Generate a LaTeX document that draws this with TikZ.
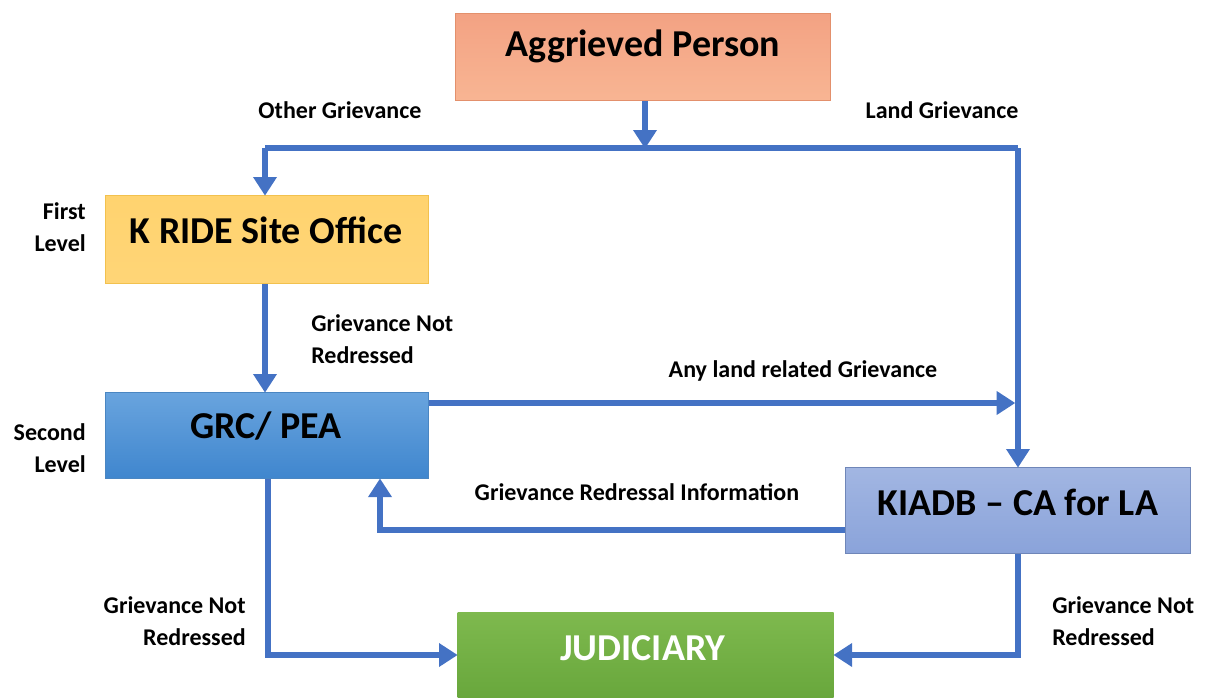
\documentclass[tikz,border=0pt]{standalone}
\usepackage{fontspec}
\setmainfont{Carlito}
\usetikzlibrary{arrows.meta,positioning}
\definecolor{arr}{HTML}{4472C4}
\definecolor{apTop}{HTML}{F3A283}
\definecolor{apBot}{HTML}{F8B593}
\definecolor{apBd}{HTML}{E3906C}
\definecolor{krTop}{HTML}{FFD36F}
\definecolor{krBot}{HTML}{FFD577}
\definecolor{krBd}{HTML}{F2C14E}
\definecolor{grTop}{HTML}{69A4DE}
\definecolor{grBot}{HTML}{3F86CE}
\definecolor{grBd}{HTML}{4A86C2}
\definecolor{kiTop}{HTML}{A2B6E2}
\definecolor{kiBot}{HTML}{8AA3DA}
\definecolor{kiBd}{HTML}{6F86B8}
\definecolor{juTop}{HTML}{7EB94E}
\definecolor{juBot}{HTML}{66A53A}
\tikzset{
  boxnode/.style={draw, line width=0.8pt, inner sep=0pt},
  boxtext/.style={font=\bfseries\fontsize{28.5}{30}\selectfont, inner sep=0pt},
  conn/.style={draw=arr, line width=3.8pt},
  arrowconn/.style={conn, -{Triangle[width=17pt,length=14pt]}, shorten >=-0.5pt},
  lbl/.style={font=\bfseries\fontsize{18}{24}\selectfont, inner sep=0pt},
}
\begin{document}
\begin{tikzpicture}[x=0.75pt,y=-0.75pt]
\useasboundingbox (0,0) rectangle (1207,697);
\begin{scope}
\clip (0,0) rectangle (1207,697);
% boxes
\node[boxnode, draw=apBd, top color=apTop, bottom color=apBot, minimum width=375*0.75pt, minimum height=87*0.75pt, anchor=north west] (ap) at (455,13) {};
\node[boxtext] (apt) at (643,46) {Aggrieved Person};
\node[boxnode, draw=krBd, top color=krTop, bottom color=krBot, minimum width=323*0.75pt, minimum height=88*0.75pt, anchor=north west] (kr) at (105,195) {};
\node[boxtext] (krt) at (266,230) {K RIDE Site Office};
\node[boxnode, draw=grBd, top color=grTop, bottom color=grBot, minimum width=323*0.75pt, minimum height=86*0.75pt, anchor=north west] (grc) at (105,392) {};
\node[boxtext] (grt) at (266,426) {GRC/ PEA};
\node[boxnode, draw=kiBd, top color=kiTop, bottom color=kiBot, minimum width=345*0.75pt, minimum height=86*0.75pt, anchor=north west] (ki) at (845,467) {};
\node[boxtext] (kit) at (1018,502) {KIADB – CA for LA};
\node[boxnode, draw=none, top color=juTop, bottom color=juBot, minimum width=376*0.75pt, minimum height=95*0.75pt, anchor=north west] (ju) at (457,612) {};
\node[boxtext, text=white] (jut) at (643,648) {JUDICIARY};
% connectors
\coordinate (split) at (645,148);
\coordinate (lt) at (265,148);
\coordinate (rt) at (1018,148);
\coordinate (lr) at (1018,403);
\draw[conn] (lt) -- (rt);
\draw[arrowconn] (ap.south -| split) -- (split);
\draw[arrowconn] (lt) -- (lt |- kr.north);
\draw[arrowconn] (rt) -- (rt |- ki.north);
\draw[arrowconn] (kr.south -| lt) -- (lt |- grc.north);
\draw[arrowconn] (grc.east |- lr) -- ([xshift=-2.5pt]lr);
\coordinate (gb) at (380,530);
\draw[arrowconn] (ki.west |- gb) -- (gb) -- (gb |- grc.south);
\coordinate (g1) at (268,655);
\draw[arrowconn] (grc.south -| g1) -- (g1) -- (g1 -| ju.west);
\coordinate (k1) at (1018,655);
\draw[arrowconn] (ki.south -| k1) -- (k1) -- (k1 -| ju.east);
\end{scope}
% labels
\node[lbl] (l1) at (340,110) {Other Grievance};
\node[lbl] (l2) at (942,110) {Land Grievance};
\node[lbl, align=right, anchor=east] (l3) at (86,227) {First\\Level};
\node[lbl, align=left, anchor=west] (l4) at (311,339) {Grievance Not\\Redressed};
\node[lbl] (l5) at (803,371) {Any land related Grievance};
\node[lbl, align=right, anchor=east] (l6) at (86,448) {Second\\Level};
\node[lbl] (l7) at (637,492) {Grievance Redressal Information};
\node[lbl, align=right, anchor=east] (l8) at (246,621) {Grievance Not\\Redressed};
\node[lbl, align=left, anchor=west] (l9) at (1052,621) {Grievance Not\\Redressed};
\end{tikzpicture}
\end{document}
